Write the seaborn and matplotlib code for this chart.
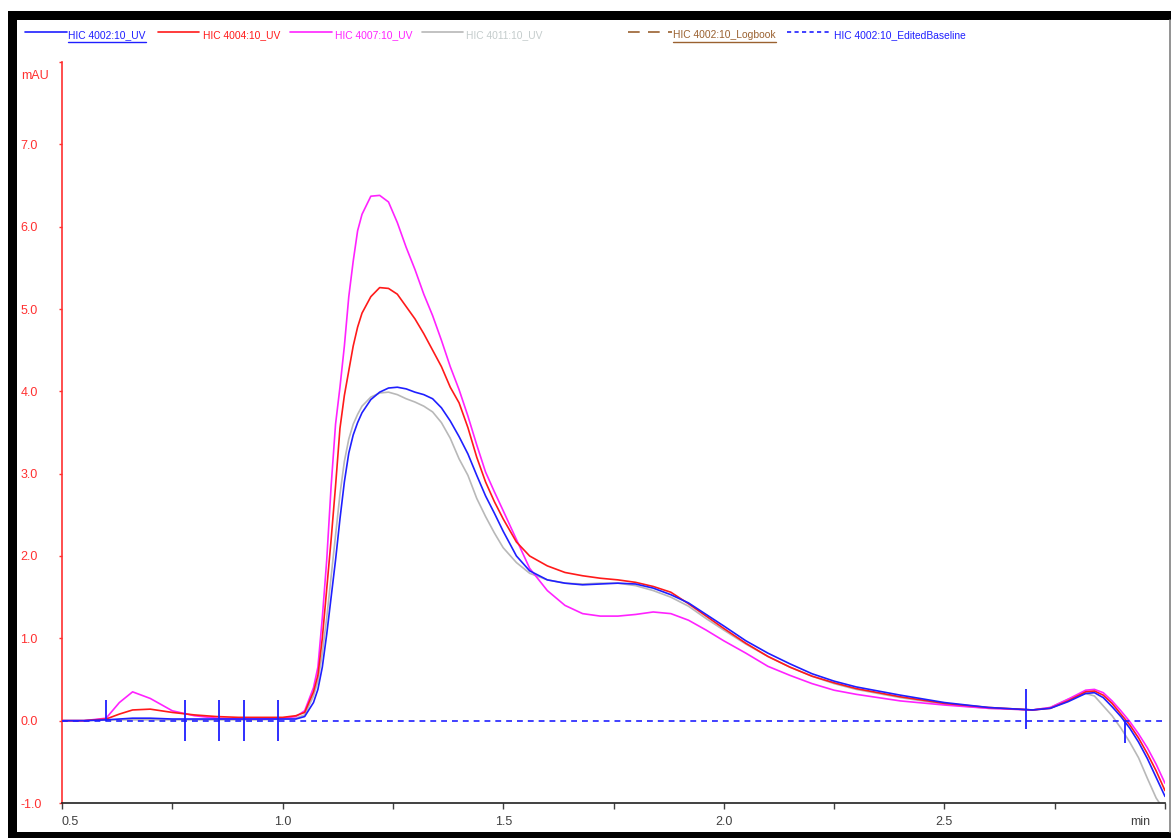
import numpy as np
import pandas as pd
import matplotlib
matplotlib.use("Agg")
import matplotlib.pyplot as plt
from matplotlib import font_manager
from matplotlib.lines import Line2D
from matplotlib.patches import Rectangle
import seaborn as sns

# Retention time grid (min)
time_min = [0.50, 0.55, 0.60, 0.63, 0.66, 0.70, 0.75, 0.80, 0.85, 0.90, 0.95, 1.00,
            1.03, 1.05, 1.07, 1.08, 1.09, 1.10, 1.11, 1.12, 1.13, 1.14, 1.15, 1.16,
            1.17, 1.18, 1.20, 1.22, 1.24, 1.26, 1.28, 1.30, 1.32, 1.34, 1.36, 1.38,
            1.40, 1.42, 1.44, 1.46, 1.48, 1.50, 1.53, 1.56, 1.60, 1.64, 1.68, 1.72,
            1.76, 1.80, 1.84, 1.88, 1.92, 1.96, 2.00, 2.05, 2.10, 2.15, 2.20, 2.25,
            2.30, 2.40, 2.50, 2.60, 2.70, 2.74, 2.78, 2.82, 2.84, 2.86, 2.88, 2.90,
            2.92, 2.94, 2.96, 2.98, 3.00]

# UV absorbance traces (mAU)
uv_4002 = [0.00, 0.00, 0.01, 0.02, 0.03, 0.03, 0.02, 0.02, 0.02, 0.02, 0.02, 0.02,
           0.02, 0.05, 0.22, 0.38, 0.65, 1.05, 1.50, 1.95, 2.45, 2.90, 3.25, 3.47,
           3.62, 3.74, 3.90, 3.99, 4.04, 4.05, 4.03, 3.99, 3.96, 3.91, 3.80, 3.64,
           3.45, 3.24, 2.98, 2.73, 2.52, 2.30, 2.00, 1.82, 1.71, 1.67, 1.65, 1.66,
           1.67, 1.66, 1.61, 1.53, 1.43, 1.29, 1.15, 0.97, 0.82, 0.69, 0.57, 0.48,
           0.41, 0.31, 0.22, 0.16, 0.13, 0.15, 0.23, 0.33, 0.34, 0.28, 0.17, 0.05,
           -0.09, -0.26, -0.46, -0.69, -0.92]
uv_4004 = [0.00, 0.00, 0.02, 0.08, 0.13, 0.14, 0.10, 0.07, 0.05, 0.04, 0.04, 0.04,
           0.06, 0.10, 0.35, 0.55, 1.00, 1.60, 2.20, 2.85, 3.55, 3.95, 4.25, 4.55,
           4.78, 4.95, 5.15, 5.26, 5.25, 5.18, 5.03, 4.88, 4.70, 4.50, 4.30, 4.05,
           3.86, 3.56, 3.20, 2.90, 2.66, 2.45, 2.17, 2.00, 1.88, 1.80, 1.76, 1.73,
           1.71, 1.68, 1.63, 1.56, 1.42, 1.27, 1.12, 0.94, 0.78, 0.65, 0.54, 0.46,
           0.39, 0.29, 0.21, 0.16, 0.13, 0.15, 0.24, 0.35, 0.36, 0.31, 0.21, 0.08,
           -0.05, -0.21, -0.40, -0.61, -0.85]
uv_4007 = [0.00, 0.00, 0.03, 0.22, 0.35, 0.27, 0.12, 0.06, 0.03, 0.02, 0.02, 0.03,
           0.05, 0.12, 0.40, 0.65, 1.25, 1.95, 2.85, 3.60, 4.05, 4.55, 5.15, 5.58,
           5.95, 6.15, 6.37, 6.38, 6.30, 6.05, 5.75, 5.48, 5.18, 4.92, 4.62, 4.30,
           4.02, 3.70, 3.35, 3.02, 2.78, 2.55, 2.20, 1.85, 1.58, 1.40, 1.30, 1.27,
           1.27, 1.29, 1.32, 1.30, 1.22, 1.10, 0.97, 0.82, 0.66, 0.55, 0.45, 0.37,
           0.32, 0.24, 0.19, 0.15, 0.13, 0.16, 0.26, 0.37, 0.38, 0.34, 0.24, 0.12,
           -0.01, -0.16, -0.33, -0.53, -0.76]
uv_4011 = [0.00, 0.00, 0.01, 0.01, 0.01, 0.01, 0.01, 0.01, 0.01, 0.01, 0.01, 0.02,
           0.03, 0.07, 0.30, 0.48, 0.82, 1.25, 1.75, 2.25, 2.75, 3.15, 3.42, 3.60,
           3.72, 3.82, 3.93, 3.98, 3.99, 3.96, 3.91, 3.87, 3.82, 3.75, 3.62, 3.43,
           3.18, 2.98, 2.70, 2.48, 2.28, 2.10, 1.92, 1.79, 1.71, 1.67, 1.66, 1.67,
           1.67, 1.64, 1.58, 1.50, 1.39, 1.24, 1.10, 0.93, 0.78, 0.65, 0.54, 0.45,
           0.38, 0.28, 0.20, 0.15, 0.13, 0.16, 0.26, 0.33, 0.30, 0.18, 0.06, -0.09,
           -0.26, -0.45, -0.70, -0.94, -1.10]

run_names = ["HIC 4002:10_UV", "HIC 4004:10_UV", "HIC 4007:10_UV", "HIC 4011:10_UV"]
run_values = [uv_4002, uv_4004, uv_4007, uv_4011]

# Edited baseline level and fraction/peak marks
baseline_level = 0.0
mark_times = [0.600, 0.778, 0.855, 0.912, 0.989, 2.685, 2.909]
mark_low = [0.00, -0.25, -0.25, -0.25, -0.25, -0.10, -0.27]
mark_high = [0.25, 0.25, 0.25, 0.25, 0.25, 0.38, 0.00]

x_ticks = [0.5, 0.75, 1.0, 1.25, 1.5, 1.75, 2.0, 2.25, 2.5, 2.75, 3.0]
x_tick_labels = ["0.5", "", "1.0", "", "1.5", "", "2.0", "", "2.5", "", ""]
y_ticks = [-1.0, 0.0, 1.0, 2.0, 3.0, 4.0, 5.0, 6.0, 7.0, 8.0]
y_tick_labels = ["-1.0", "0.0", "1.0", "2.0", "3.0", "4.0", "5.0", "6.0", "7.0", ""]

BLUE = "#1f1fff"
RED = "#ff1a1a"
MAGENTA = "#ff22ff"
GREY = "#b8b8b8"
BROWN = "#9a6130"
AXIS_RED = "#ff3030"
DARK = "#404040"

sns.set_style("white")

# Prefer a narrow sans face; fall back to a regular one
installed = {f.name for f in font_manager.fontManager.ttflist}
condensed = [f for f in font_manager.fontManager.ttflist
             if f.name == "DejaVu Sans" and f.stretch in ("condensed", 500 - 125, "semi-condensed")
             and f.weight in ("normal", 400) and f.style == "normal"]
if "Liberation Sans Narrow" in installed:
    plt.rcParams["font.family"] = ["Liberation Sans Narrow", "DejaVu Sans"]
    narrow = True
elif "Arial Narrow" in installed:
    plt.rcParams["font.family"] = ["Arial Narrow", "DejaVu Sans"]
    narrow = True
else:
    plt.rcParams["font.family"] = ["Liberation Sans", "DejaVu Sans"]
    narrow = False

W, H = 1171, 838
fig = plt.figure(figsize=(W / 100, H / 100), dpi=100)
fig.patch.set_facecolor("white")


def fx(px):
    return px / W


def fy(py):
    return 1 - py / H


# Window frame
fig.add_artist(Rectangle((fx(8), fy(20)), fx(1163), fy(11) - fy(20), transform=fig.transFigure,
                         facecolor="black", edgecolor="none"))
fig.add_artist(Rectangle((fx(8), 0), fx(9), fy(11), transform=fig.transFigure,
                         facecolor="black", edgecolor="none"))
fig.add_artist(Rectangle((fx(8), 0), fx(1163), fy(832), transform=fig.transFigure,
                         facecolor="black", edgecolor="none"))
fig.add_artist(Line2D([fx(1169.5), fx(1169.5)], [fy(832), fy(20)], transform=fig.transFigure,
                      color="#808080", lw=1.2))

ax = fig.add_axes([fx(62), fy(803), fx(1165) - fx(62), fy(62) - fy(803)])
ax.set_facecolor("none")

df = pd.concat(
    [pd.DataFrame({"time": time_min, "mAU": vals, "run": name})
     for name, vals in zip(run_names, run_values)],
    ignore_index=True,
)
palette = {run_names[0]: BLUE, run_names[1]: RED, run_names[2]: MAGENTA, run_names[3]: GREY}
draw_order = [run_names[3], run_names[2], run_names[1], run_names[0]]
sns.lineplot(data=df, x="time", y="mAU", hue="run", hue_order=draw_order, palette=palette,
             estimator=None, sort=False, linewidth=1.2, legend=False, ax=ax)

ax.axhline(baseline_level, color=BLUE, lw=1.2, ls=(0, (3.5, 3)), zorder=5)
ax.vlines(mark_times, mark_low, mark_high, color=BLUE, lw=1.3, zorder=6)

ax.set_xlim(0.5, 3.0)
ax.set_ylim(-1.0, 8.0)
ax.set_xlabel("")
ax.set_ylabel("")

for side in ["top", "right"]:
    ax.spines[side].set_visible(False)
ax.spines["left"].set_color(AXIS_RED)
ax.spines["left"].set_linewidth(1.2)
ax.spines["bottom"].set_color("#202020")
ax.spines["bottom"].set_linewidth(1.2)

tick_size = 10 if narrow else 9

ax.set_xticks(x_ticks)
ax.set_xticklabels(x_tick_labels)
ax.tick_params(axis="x", direction="out", length=4, width=1, color=DARK,
               labelsize=tick_size, labelcolor=DARK, pad=5, bottom=True)
ax.get_xticklabels()[0].set_horizontalalignment("left")

ax.set_yticks(y_ticks)
ax.set_yticklabels(y_tick_labels)
ax.tick_params(axis="y", direction="out", length=2, width=1, color=AXIS_RED,
               labelsize=tick_size, labelcolor=AXIS_RED, pad=28, left=True)
for lab in ax.get_yticklabels():
    lab.set_horizontalalignment("left")

fig.text(fx(21), fy(76), "mAU", color=AXIS_RED, fontsize=tick_size, ha="left", va="center")
fig.text(fx(1130), fy(822), "min", color=DARK, fontsize=tick_size, ha="left", va="center")

# Legend row across the top
legend_items = [
    (25, 67, 68, "HIC 4002:10_UV", BLUE, BLUE, "-", True),
    (158, 199, 203, "HIC 4004:10_UV", RED, RED, "-", False),
    (290, 332, 335, "HIC 4007:10_UV", MAGENTA, MAGENTA, "-", False),
    (422, 463, 466, "HIC 4011:10_UV", GREY, "#c4cccc", "-", False),
    (628, 672, 673, "HIC 4002:10_Logbook", BROWN, BROWN, (0, (7, 5)), True),
    (787, 832, 834, "HIC 4002:10_EditedBaseline", BLUE, BLUE, (0, (2.5, 2)), False),
]

# Size the legend text so the first label spans about 78 px
renderer = fig.canvas.get_renderer()
probe = fig.text(0, 0, legend_items[0][3], fontsize=10)
probe_w = probe.get_window_extent(renderer).width
probe.remove()
legend_size = min(9.5, 10 * 78 / probe_w)

texts = []
for x0, x1, tx, label, lc, tc, ls, underline in legend_items:
    fig.add_artist(Line2D([fx(x0), fx(x1)], [fy(32), fy(32)], transform=fig.transFigure,
                          color=lc, lw=1.2, ls=ls))
    t = fig.text(fx(tx), fy(35), label, color=tc, fontsize=legend_size, ha="left", va="center")
    texts.append((t, tc, underline))

fig.canvas.draw()
renderer = fig.canvas.get_renderer()
for t, tc, underline in texts:
    if underline:
        bb = t.get_window_extent(renderer)
        fig.add_artist(Line2D([bb.x0 / W, bb.x1 / W], [fy(42), fy(42)], transform=fig.transFigure,
                              color=tc, lw=1.0))

fig.savefig("out.png", dpi=100, facecolor="white")
